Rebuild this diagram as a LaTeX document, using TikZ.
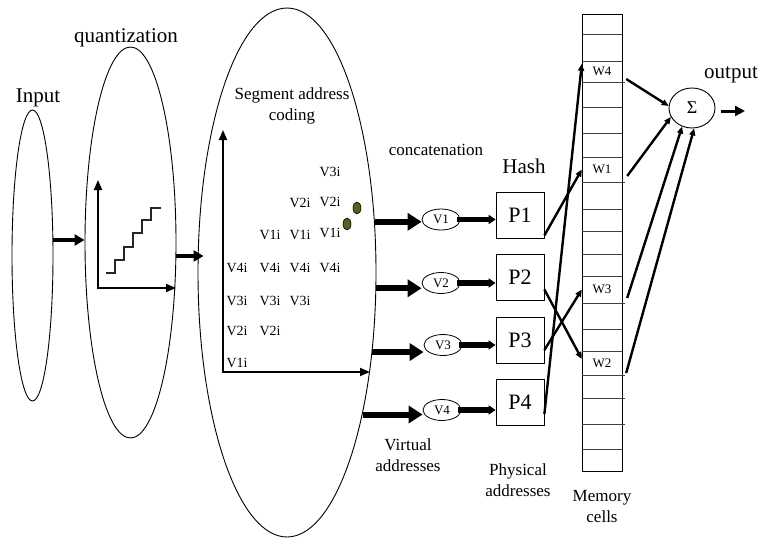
\documentclass[tikz,border=0pt]{standalone}
\usepackage{fontspec}
\setmainfont{Liberation Serif}
\usetikzlibrary{shapes.geometric,arrows.meta,calc}
\definecolor{dotgreen}{RGB}{90,95,30}
\begin{document}
\begin{tikzpicture}[x=1pt,y=-1pt,
  ell/.style={draw,ellipse,line width=0.9pt,inner sep=0},
  lbl/.style={font=\fontsize{21}{24}\selectfont,inner sep=0},
  smalllbl/.style={font=\fontsize{17}{21}\selectfont,align=center,inner sep=0},
  vt/.style={font=\fontsize{14}{16}\selectfont,inner sep=0},
  fat/.style={line width=4pt,-{Triangle[length=10pt,width=11pt]}},
  fatter/.style={line width=6pt,-{Triangle[length=14pt,width=17pt]}},
  vp/.style={line width=5.5pt,-{Triangle[length=7pt,width=9pt]}},
  axis/.style={line width=1.8pt,-{Triangle[length=10pt,width=8pt]}},
  link/.style={line width=2.4pt,-{Triangle[length=7pt,width=6pt]}},
  vell/.style={draw,ellipse,line width=0.8pt,minimum width=38pt,minimum height=21pt,inner sep=0,font=\fontsize{13}{15}\selectfont},
  pbox/.style={draw,line width=0.8pt,minimum width=48pt,minimum height=46pt,inner sep=0,font=\fontsize{22}{24}\selectfont},
  wcell/.style={minimum width=40pt,inner sep=0,font=\fontsize{13}{15}\selectfont},
  cellline/.style={line width=0.8pt,black!75},
]
\useasboundingbox (0,0) rectangle (760,538);

% ellipses
\node[ell,minimum width=41pt,minimum height=291pt] (in) at (32.5,255.5) {};
\node[ell,minimum width=91pt,minimum height=391pt] (q) at (130.5,242.5) {};
\node[ell,minimum width=178pt,minimum height=529pt] (big) at (287,272.5) {};

% labels
\node[lbl] (inlbl) at (38,98) {Input};
\node[lbl] (qlbl) at (126,38) {quantization};
\node[smalllbl] (seglbl) at (292,106) {Segment address\\coding};
\node[smalllbl] (catlbl) at (436,150) {concatenation};
\node[lbl] (hashlbl) at (524,166) {Hash};
\node[lbl] (outlbl) at (731,75) {output};
\node[smalllbl] (virtlbl) at (408,455) {Virtual\\addresses};
\node[smalllbl] (physlbl) at (518,480) {Physical\\addresses};
\node[smalllbl] (memlbl) at (602,507) {Memory\\cells};

% quantization plot
\draw[axis] (98,288) -- (98,180);
\draw[axis] (97,288) -- (176,288);
\draw[line width=1.2pt,black!85] (106,273) -- (115,273) -- (115,260) -- (124,260) -- (124,247) -- (133,247)
  -- (133,233) -- (142,233) -- (142,220) -- (151,220) -- (151,208) -- (161,208);

% segment address coding plot
\draw[axis] (223,373) -- (223,130);
\draw[axis] (222,372) -- (370,372);
\node[vt] (a1) at (237,268) {V4i};
\node[vt] (a2) at (237,301) {V3i};
\node[vt] (a3) at (237,331) {V2i};
\node[vt] (a4) at (237,363) {V1i};
\node[vt] (b1) at (270,235) {V1i};
\node[vt] (b2) at (270,268) {V4i};
\node[vt] (b3) at (270,301) {V3i};
\node[vt] (b4) at (270,331) {V2i};
\node[vt] (c1) at (300,203) {V2i};
\node[vt] (c2) at (300,235) {V1i};
\node[vt] (c3) at (300,268) {V4i};
\node[vt] (c4) at (300,301) {V3i};
\node[vt] (e1) at (330,172) {V3i};
\node[vt] (e2) at (330,202) {V2i};
\node[vt] (e3) at (330,233) {V1i};
\node[vt] (e4) at (330,268) {V4i};
\node[draw,fill=dotgreen,ellipse,minimum width=8pt,minimum height=12pt,inner sep=0,line width=0.6pt] (d1) at (357,208) {};
\node[draw,fill=dotgreen,ellipse,minimum width=8pt,minimum height=12pt,inner sep=0,line width=0.6pt] (d2) at (347,224) {};

% virtual address ellipses
\node[vell] (V1) at (441,219.5) {V1};
\node[vell] (V2) at (441,283) {V2};
\node[vell] (V3) at (443,345) {V3};
\node[vell] (V4) at (442,410) {V4};

% hash boxes
\node[pbox] (P1) at (520,215) {P1};
\node[pbox] (P2) at (520,277.5) {P2};
\node[pbox] (P3) at (520,340) {P3};
\node[pbox] (P4) at (520,402.5) {P4};

% memory column
\node[draw,line width=0.9pt,minimum width=40pt,minimum height=457pt,inner sep=0] (mem) at (602,242.5) {};
\foreach \yy in {34,61,107,133,157,209,231,254,276,329,351,449}
  \draw[cellline] (582,\yy) -- (622,\yy);
\foreach \yy in {82,182,303,375,398,424}
  \draw[cellline] (582,\yy) -- (625,\yy);
\node[wcell,minimum height=21pt] (W4) at (602,71.5) {W4};
\node[wcell,minimum height=25pt] (W1) at (602,169.5) {W1};
\node[wcell,minimum height=27pt] (W3) at (602,289.5) {W3};
\node[wcell,minimum height=24pt] (W2) at (602,363) {W2};

% sum
\node[draw,ellipse,minimum width=46pt,minimum height=40pt,inner sep=0,line width=0.9pt,font=\fontsize{18}{20}\selectfont] (sig) at (692,108) {Σ};
\coordinate (outend) at (745,111);

% connectors
\draw[fat] ([yshift=15.5pt]in.east) -- ([yshift=15.5pt]in.east -| q.west);
\draw[fat] ([yshift=-13.5pt]q.east) -- ([yshift=-13.5pt,xshift=6pt]q.east -| big.west);

\draw[fatter] (big.30) -- (big.30 -| V1.west);
\draw[fatter] (big.-10) -- (big.-10 -| V2.west);
\draw[fatter] (big.-43) -- (big.-43 -| V3.west);
\draw[fatter] (big.-62) -- (big.-62 -| V4.west);

\draw[vp] ([xshift=-3pt]V1.east) -- (V1.east -| P1.west);
\draw[vp] ([xshift=-3pt]V2.east) -- (V2.east -| P2.west);
\draw[vp] ([xshift=-3pt]V3.east) -- (V3.east -| P3.west);
\draw[vp] ([xshift=-3pt]V4.east) -- (V4.east -| P4.west);

\draw[link] ([yshift=3pt]P1.south east) -- (W1.west);
\draw[link] ([yshift=12pt]P4.south east) -- ([yshift=-3pt]W4.north west);
\draw[link] ([yshift=-12pt]P2.east) -- ([yshift=4pt]W2.west);
\draw[link] ([yshift=-10pt]P3.east) -- (W3.west);

\draw[link] ([xshift=4pt,yshift=-7.5pt]W4.east) -- (sig.175);
\draw[link] ([xshift=5pt,yshift=-6.5pt]W1.east) -- (sig.203);
\draw[link] ([xshift=5pt,yshift=-8.5pt]W3.east) -- (sig.242);
\draw[link] ([xshift=4pt,yshift=-10pt]W2.east) -- (sig.276);

\draw[line width=3pt,-{Triangle[length=10pt,width=10pt]}] ([xshift=6pt,yshift=-3pt]sig.east) -- (outend);
\end{tikzpicture}
\end{document}
